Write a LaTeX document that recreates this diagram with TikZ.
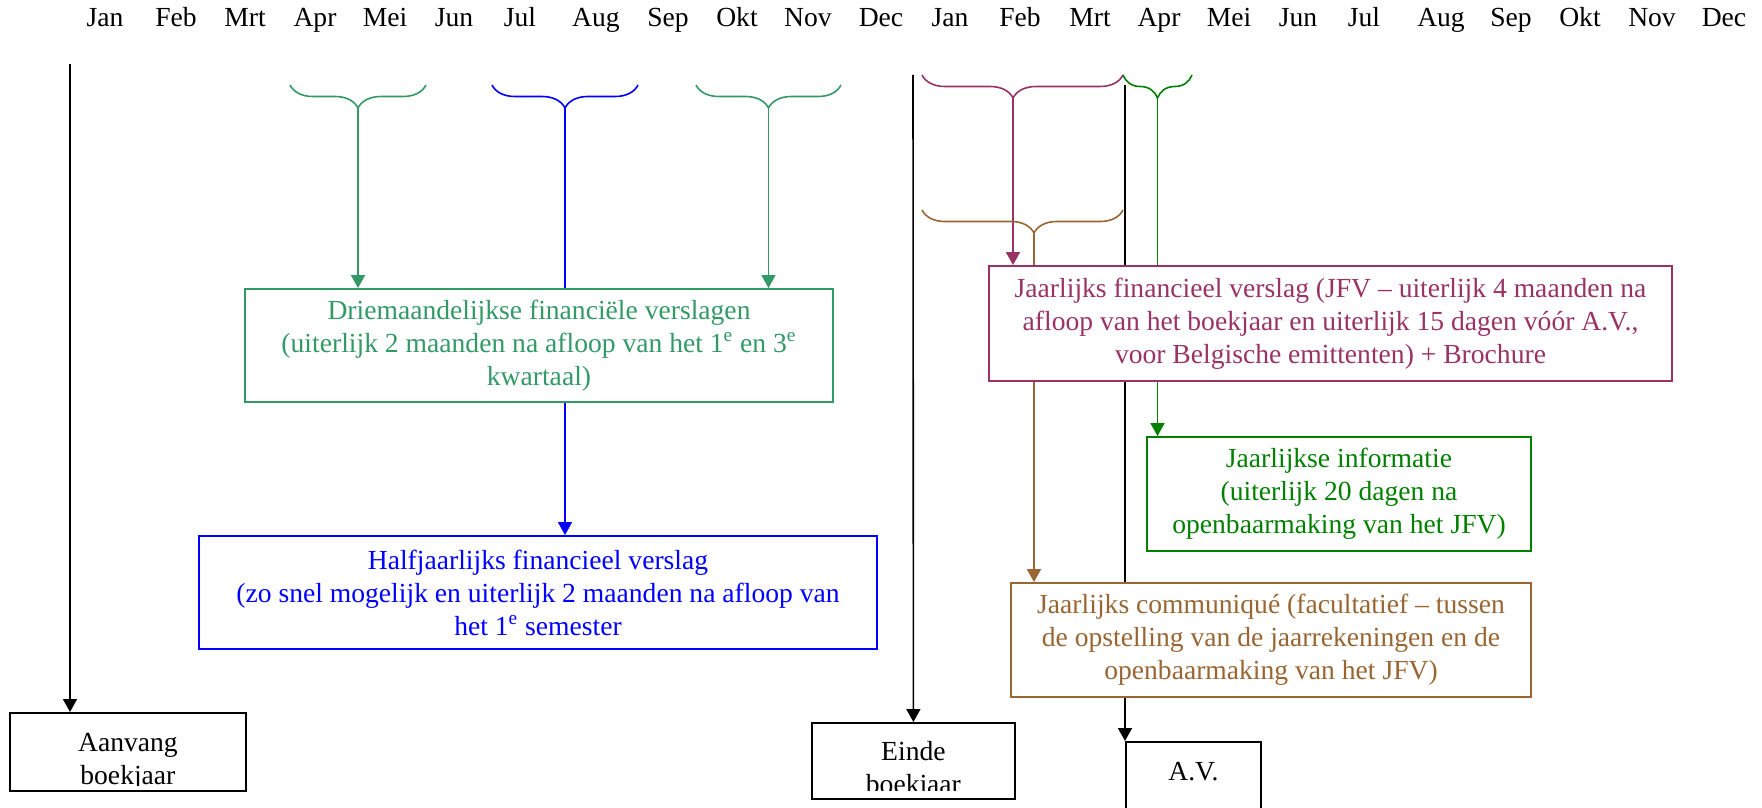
\documentclass[tikz,border=0pt]{standalone}
\usepackage{fontspec}
\setmainfont{Liberation Serif}
\usetikzlibrary{arrows.meta,decorations.pathreplacing,backgrounds}
\definecolor{QuarterGreen}{RGB}{51,153,102}
\definecolor{HalfBlue}{RGB}{0,0,255}
\definecolor{AnnualPlum}{RGB}{153,51,102}
\definecolor{InfoGreen}{RGB}{0,128,0}
\definecolor{NoticeBrown}{RGB}{153,102,51}
\newcommand{\mfont}{\fontsize{13.8pt}{16.5pt}\selectfont}
\tikzset{
  month/.style={anchor=base,inner sep=0pt,font=\mfont},
  bigbox/.style={draw=#1,text=#1,fill=white,line width=0.9pt,align=center,
                 font=\mfont,inner sep=0pt},
  tbox/.style n args={3}{draw,fill=white,line width=0.9pt,anchor=north west,
    path picture={
      \clip ([yshift=#3]path picture bounding box.south west)
        rectangle (path picture bounding box.north east);
      \node[anchor=north,align=center,font=\mfont,inner sep=0pt]
        at ([yshift=#2]path picture bounding box.north) {#1};}},
  brc/.style={draw=#1,line width=0.8pt,decorate,
              decoration={brace,amplitude=11.5pt}},
  arr/.style={draw=#1,line width=0.8pt,-{Triangle[length=6.5pt,width=7pt]}},
}

\begin{document}
\begin{tikzpicture}[x=0.5pt,y=-0.5pt]
  \useasboundingbox (0,0) rectangle (1762,808);
  % months, two years
  \foreach \m/\x [count=\i] in {Jan/105,Feb/176,Mrt/245,Apr/315,Mei/385,Jun/454,
      Jul/520,Aug/596,Sep/668,Okt/737,Nov/808,Dec/881,Jan/950,Feb/1020,Mrt/1090,
      Apr/1159,Mei/1229,Jun/1298,Jul/1364,Aug/1441,Sep/1511,Okt/1580,Nov/1652,Dec/1724}
    \node[month] (mon\i) at (\x,27) {\m};

  % report boxes
  \node[bigbox=QuarterGreen,minimum width=294pt,minimum height=56.5pt] (driem) at (539,345.5)
    {Driemaandelijkse financiële verslagen\\(uiterlijk 2 maanden na afloop van het 1\textsuperscript{e} en 3\textsuperscript{e}\\kwartaal)};
  \node[bigbox=HalfBlue,minimum width=339pt,minimum height=56.5pt] (half) at (538,592.5)
    {Halfjaarlijks financieel verslag\\(zo snel mogelijk en uiterlijk 2 maanden na afloop van\\het 1\textsuperscript{e} semester};
  \node[bigbox=AnnualPlum,minimum width=341.5pt,minimum height=57.5pt] (jfv) at (1330.5,323.5)
    {Jaarlijks financieel verslag (JFV – uiterlijk 4 maanden na\\afloop van het boekjaar en uiterlijk 15 dagen vóór A.V.,\\voor Belgische emittenten) + Brochure};
  \node[bigbox=InfoGreen,minimum width=192pt,minimum height=57pt] (info) at (1339,494)
    {Jaarlijkse informatie\\(uiterlijk 20 dagen na\\openbaarmaking van het JFV)};
  \node[bigbox=NoticeBrown,minimum width=260pt,minimum height=57pt] (comm) at (1271,640)
    {Jaarlijks communiqué (facultatief – tussen\\de opstelling van de jaarrekeningen en de\\openbaarmaking van het JFV)};

  % milestones
  \node[tbox={Aanvang\\boekjaar}{-4.5pt}{2.5pt},minimum width=118pt,minimum height=39pt] (aanvang) at (9,712) {};
  \node[tbox={Einde\\boekjaar}{-4.5pt}{4pt},minimum width=101.5pt,minimum height=38pt] (einde) at (811,722) {};
  \node[tbox={A.V.}{4pt}{4pt},minimum width=67.5pt,minimum height=37pt] (av) at (1125,741) {};

  % braces
  \draw[brc=QuarterGreen] (426,85) -- (290,85);
  \draw[brc=HalfBlue] (638,85) -- (492,85);
  \draw[brc=QuarterGreen] (841,85) -- (696,85);
  \draw[brc=AnnualPlum,decoration={aspect=0.547}] (1123,75) -- (922,75);
  \draw[brc=InfoGreen] (1192,75) -- (1123,75);
  \draw[brc=NoticeBrown,decoration={aspect=0.443}] (1123,210) -- (922,210);

  \coordinate (q1) at (358,108);
  \coordinate (s1) at (565,108);
  \coordinate (q3) at (768.5,108);
  \coordinate (jr) at (1013,98);
  \coordinate (ji) at (1157.5,98);
  \coordinate (jc) at (1034,233);
  \coordinate (start) at (70,64);
  \coordinate (end) at (913,75);
  \coordinate (meet) at (1125,85);

  \begin{scope}[on background layer]
    \draw[arr=black] (start) -- (start |- aanvang.north);
    \draw[arr=black] (end) -- (einde.north);
    \draw[arr=black] (meet) -- (av.north west);
    \draw[arr=QuarterGreen] (q1) -- (q1 |- driem.north);
    \draw[arr=QuarterGreen] (q3) -- (q3 |- driem.north);
    \draw[arr=HalfBlue] (s1) -- (s1 |- half.north);
    \draw[arr=AnnualPlum] (jr) -- (jr |- jfv.north);
    \draw[arr=InfoGreen] (ji) -- (ji |- info.north);
    \draw[arr=NoticeBrown] (jc) -- (jc |- comm.north);
  \end{scope}
\end{tikzpicture}
\end{document}
